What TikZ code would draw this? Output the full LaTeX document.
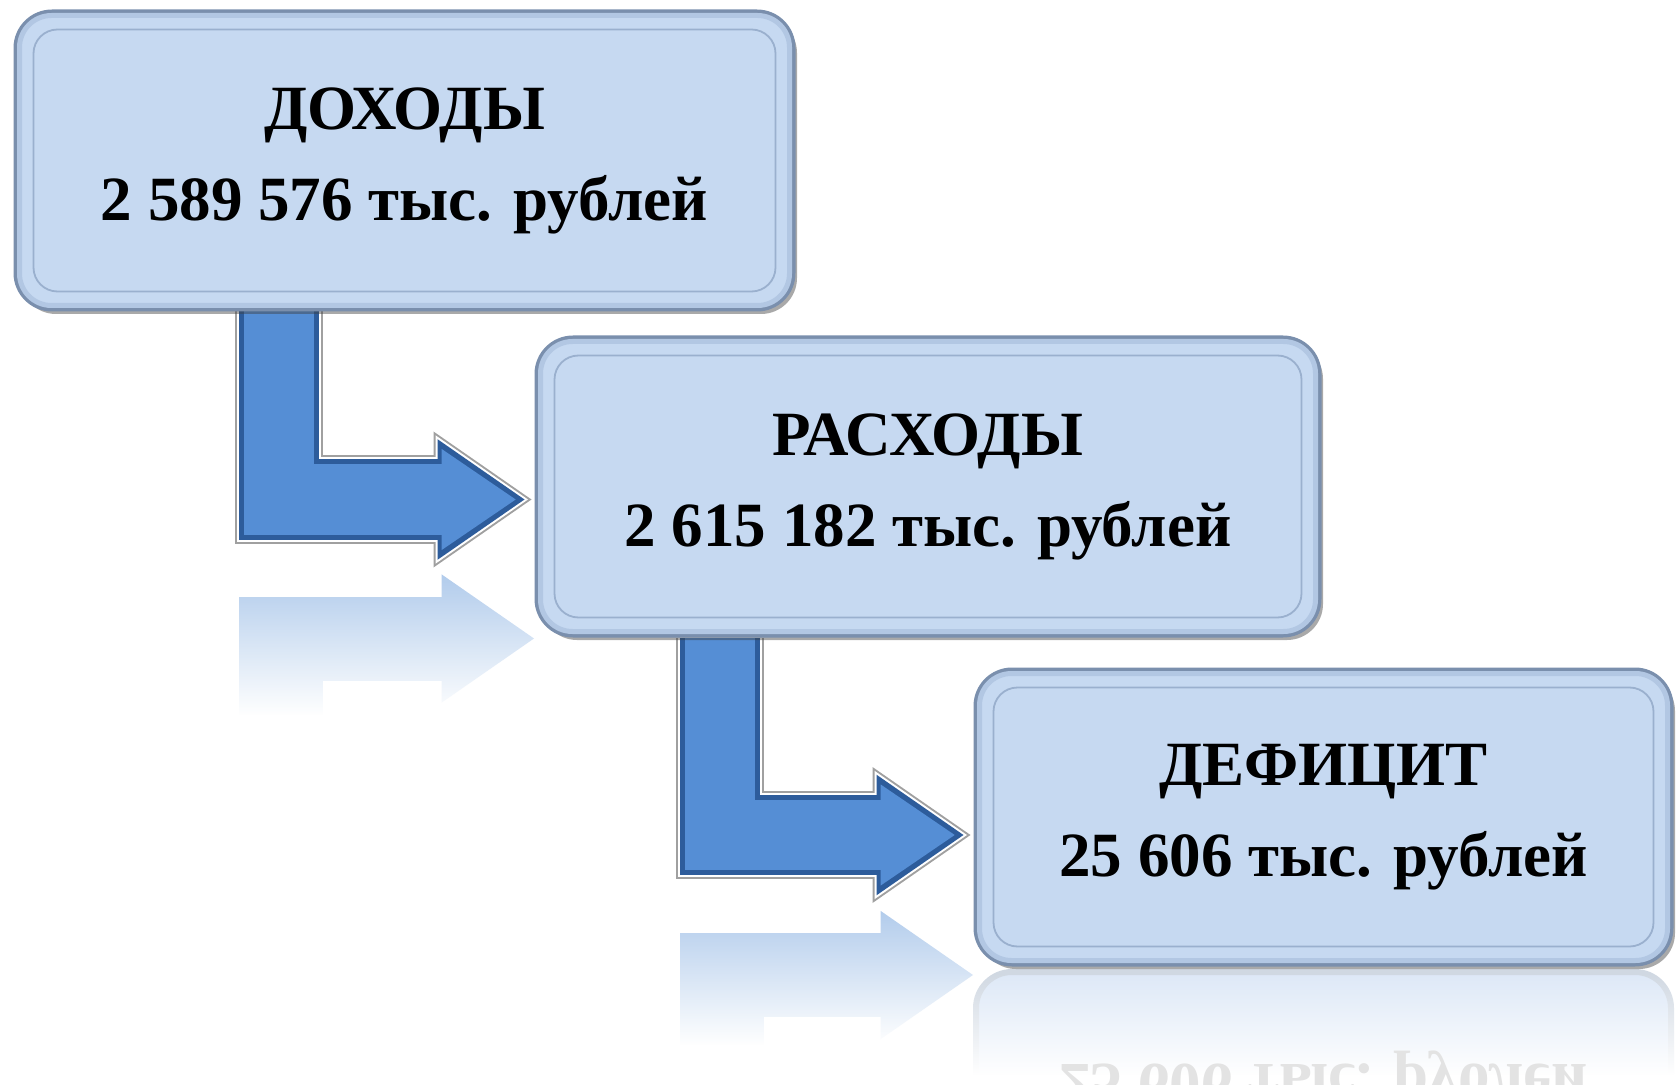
\documentclass[tikz,border=0pt]{standalone}
\usepackage{fontspec}
\setmainfont{Liberation Serif}
\usetikzlibrary{calc,arrows.meta,shadows,fadings}

\definecolor{boxfill}{HTML}{C6D9F1}
\definecolor{boxrim}{HTML}{7A8FAD}
\definecolor{boxband}{HTML}{B2C7E3}
\definecolor{boxline}{HTML}{9AB0CE}
\definecolor{flowblue}{HTML}{558ED5}
\definecolor{flowdark}{HTML}{2D5C9B}
\definecolor{flowgray}{HTML}{A0A0A0}

\pgfdeclarelayer{background}
\pgfsetlayers{background,main}

\tikzfading[name=reflfade, top color=transparent!100, bottom color=transparent!0]

\tikzset{
  budget/.style={rounded corners=18pt, fill=boxfill, draw=boxrim, line width=2.5pt,
    inner sep=0pt, minimum height=148.5pt, align=center,
    font=\fontsize{31.5}{45.5}\selectfont\bfseries,
    drop shadow={shadow xshift=2pt, shadow yshift=-2.5pt, opacity=.45, fill=black!75}},
  innerglow/.style={rounded corners=16pt, draw=boxband, line width=2.5pt},
  innerframe/.style={rounded corners=12pt, draw=boxline, line width=.9pt},
  arrowrim/.style={line width=44pt, draw=flowgray,
    -{Triangle[length=49pt,width=68pt,line width=0pt]}},
  arrowgap/.style={line width=42pt, draw=white, shorten >=1.75pt,
    -{Triangle[length=46.25pt,width=64.2pt,line width=0pt]}},
  arrowedge/.style={line width=40pt, draw=flowdark, shorten >=3.5pt,
    -{Triangle[length=43.5pt,width=60.3pt,line width=0pt]}},
  arrowbody/.style={line width=35pt, draw=flowblue, shorten >=7.9pt,
    -{Triangle[length=37pt,width=50.5pt,line width=0pt]}},
  arrowmirror/.style={line width=42pt, draw=flowblue!45!white,
    -{Triangle[length=46.25pt,width=64.2pt,line width=0pt]}}
}

\begin{document}
\begin{tikzpicture}[x=0.5pt,y=-0.5pt]
\useasboundingbox (0,0) rectangle (1676,1085);

% boxes
\node[budget, minimum width=388.5pt] (doxody) at (404.5,160.5)
  {ДОХОДЫ\\2 589 576 тыс. рублей};
\node[budget, minimum width=391pt] (rasxody) at (928,486.5)
  {РАСХОДЫ\\2 615 182 тыс. рублей};
\node[budget, minimum width=347.5pt, minimum height=147pt] (deficit) at (1323.5,817)
  {ДЕФИЦИТ\\25 606 тыс. рублей};

\foreach \n in {doxody,rasxody,deficit}{
  \draw[innerglow] ([shift={(6,6)}]\n.north west) rectangle ([shift={(-6,-6)}]\n.south east);
  \draw[innerframe] ([shift={(20,20)}]\n.north west) rectangle ([shift={(-20,-20)}]\n.south east);
}

\begin{pgfonlayer}{background}
  % reflections
  \draw[arrowmirror] (281,760) |- (534,638.5);
  \fill[white, path fading=reflfade] (225,575) rectangle (545,715);
  \fill[white] (225,715) rectangle (545,790);
  \draw[arrowmirror] (722,1085) |- (973,975);
  \fill[white, path fading=reflfade] (665,910) rectangle (985,1045);
  \fill[white] (665,1045) rectangle (985,1085);
  \draw[rounded corners=18pt, fill=boxfill!60!white, draw=boxrim!35!white, line width=3pt]
    (976,972) rectangle (1671,1264);
  \fill[white, path fading=reflfade] (960,972) rectangle (1676,1075);
  \fill[white] (960,1075) rectangle (1676,1085);
  \node[yscale=-1, text=black!11, align=center, font=\fontsize{31.5}{45.5}\selectfont\bfseries]
    (deficitmirror) at (1323.5,1124) {ДЕФИЦИТ\\25 606 тыс. рублей};

  % bent arrows
  \foreach \lay in {arrowrim,arrowgap,arrowedge,arrowbody}{
    \draw[\lay] ($(doxody.south west)+(265,0)$) |- ($(rasxody.west)+(-3,13)$);
    \draw[\lay] ($(rasxody.south west)+(185,0)$) |- ($(deficit.west)+(-3,18)$);
  }
\end{pgfonlayer}
\end{tikzpicture}
\end{document}
